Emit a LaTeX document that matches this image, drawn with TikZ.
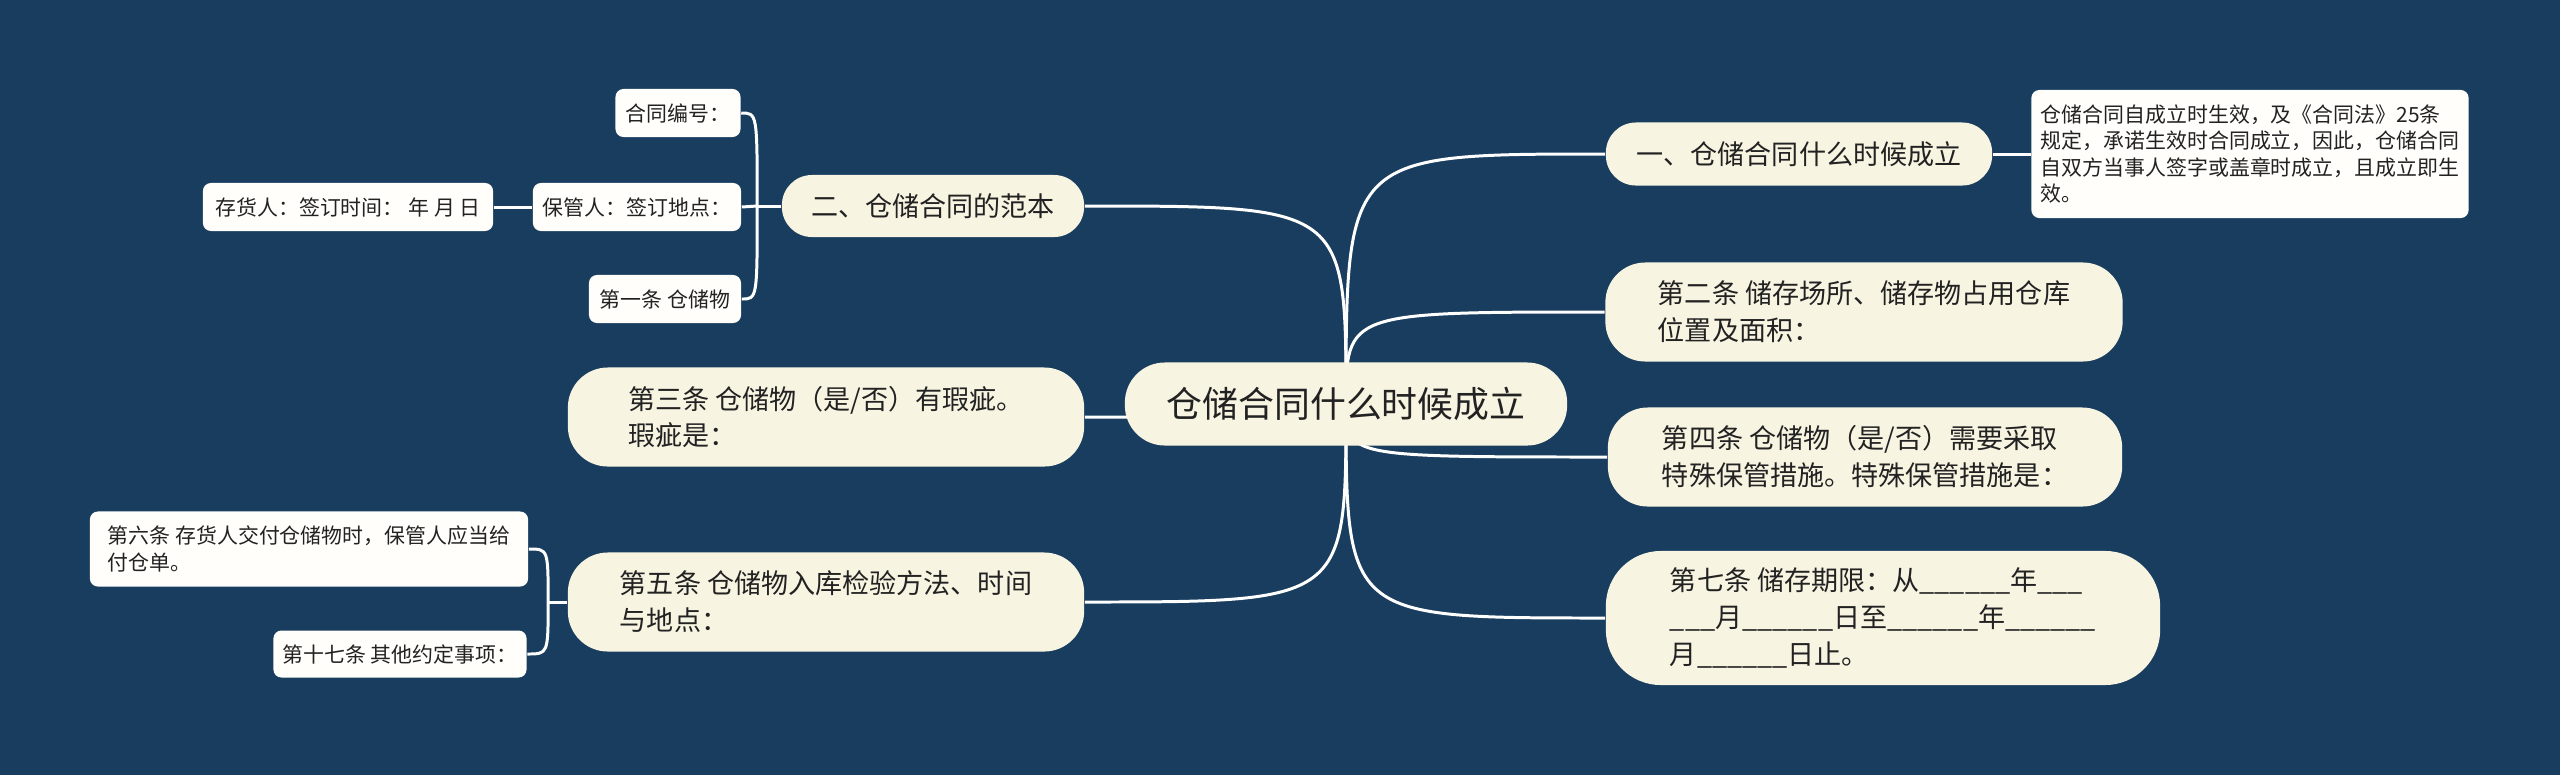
\documentclass[tikz,border=0pt]{standalone}
\usepackage{fontspec}
\setmainfont{Noto Sans CJK SC}
\usetikzlibrary{positioning, calc, backgrounds}
\definecolor{bgcolor}{RGB}{24, 61, 94}
\definecolor{maincolor}{RGB}{248, 244, 226}
\definecolor{leafcolor}{RGB}{255, 254, 250}
\definecolor{textcolor}{RGB}{34, 34, 34}

\begin{document}
\begin{tikzpicture}[
    x=0.01cm, y=-0.01cm,
    root/.style={rectangle, rounded corners=0.4cm, fill=maincolor, minimum width=4.42cm, minimum height=0.83cm, inner sep=0pt, align=center, text=textcolor, font=\fontsize{10.2}{12}\selectfont},
    branch/.style={rectangle, rounded corners=0.4cm, fill=maincolor, minimum height=0.99cm, inner sep=0pt, align=left, text=textcolor, font=\fontsize{7.7}{10.5}\selectfont},
    leaf/.style={rectangle, rounded corners=0.08cm, fill=leafcolor, minimum height=0.48cm, inner sep=0pt, align=left, text=textcolor, font=\fontsize{5.95}{7.5}\selectfont},
    link/.style={draw=white, line width=0.85pt}
]
\useasboundingbox (0,0) rectangle (2560,775);

% Root
\node[root] (title) at (1346, 404) {仓储合同什么时候成立};

% Right branches
\node[branch, rounded corners=0.3cm, minimum width=3.86cm, minimum height=0.63cm] (when) at (1799, 154) {一、仓储合同什么时候成立};
\node[branch, minimum width=5.17cm] (art2) at (1864, 312) {第二条 储存场所、储存物占用仓库\\位置及面积：};
\node[branch, minimum width=5.14cm] (art4) at (1865, 457) {第四条 仓储物（是/否）需要采取\\特殊保管措施。特殊保管措施是：};
\node[branch, rounded corners=0.55cm, minimum width=5.54cm, minimum height=1.34cm] (art7) at (1883, 618) {第七条 储存期限：从\_\_\_\_\_\_年\_\_\_\\\_\_\_月\_\_\_\_\_\_日至\_\_\_\_\_\_年\_\_\_\_\_\_\\月\_\_\_\_\_\_日止。};

% Left branches
\node[branch, rounded corners=0.3cm, minimum width=3.02cm, minimum height=0.62cm] (model) at (933, 206) {二、仓储合同的范本};
\node[branch, minimum width=5.16cm] (art3) at (826, 417) {第三条 仓储物（是/否）有瑕疵。\\瑕疵是：};
\node[branch, minimum width=5.16cm] (art5) at (826, 602) {第五条 仓储物入库检验方法、时间\\与地点：};

% Leaves
\node[leaf, minimum width=4.37cm, minimum height=1.28cm] (note) at (2250, 154) {仓储合同自成立时生效，及《合同法》25条\\规定，承诺生效时合同成立，因此，仓储合同\\自双方当事人签字或盖章时成立，且成立即生\\效。};
\node[leaf, minimum width=1.25cm] (number) at (678, 113) {合同编号：};
\node[leaf, minimum width=2.08cm] (keeper) at (637, 207) {保管人：签订地点：};
\node[leaf, minimum width=1.52cm] (art1) at (665, 299) {第一条 仓储物};
\node[leaf, minimum width=2.90cm] (holder) at (348, 207) {存货人：签订时间： 年 月 日};
\node[leaf, minimum width=4.38cm, minimum height=0.75cm] (art6) at (309, 549) {第六条 存货人交付仓储物时，保管人应当给\\付仓单。};
\node[leaf, minimum width=2.53cm, minimum height=0.47cm] (art17) at (400, 654) {第十七条 其他约定事项：};

\begin{scope}[on background layer]
% Background
\fill[bgcolor] (0,0) rectangle (2560,775);

% Root links
\foreach \b in {when, art2, art4, art7}
    \draw[link] (title.center) .. controls (title.center |- \b.west) .. (\b.west);
\foreach \b in {model, art3, art5}
    \draw[link] (title.center) .. controls (title.center |- \b.east) .. (\b.east);

% Leaf links
\draw[link] (when.east) -- (note.west);
\draw[link] (model.west) -- ++(-24,0) coordinate (mj);
\draw[link] (mj) .. controls (mj |- number.east) .. (number.east);
\draw[link] (mj) -- (keeper.east);
\draw[link] (mj) .. controls (mj |- art1.east) .. (art1.east);
\draw[link] (keeper.west) -- (holder.east);
\draw[link] (art5.west) -- ++(-19,0) coordinate (fj);
\draw[link] (fj) .. controls (fj |- art6.east) .. (art6.east);
\draw[link] (fj) .. controls (fj |- art17.east) .. (art17.east);
\end{scope}

\end{tikzpicture}
\end{document}
